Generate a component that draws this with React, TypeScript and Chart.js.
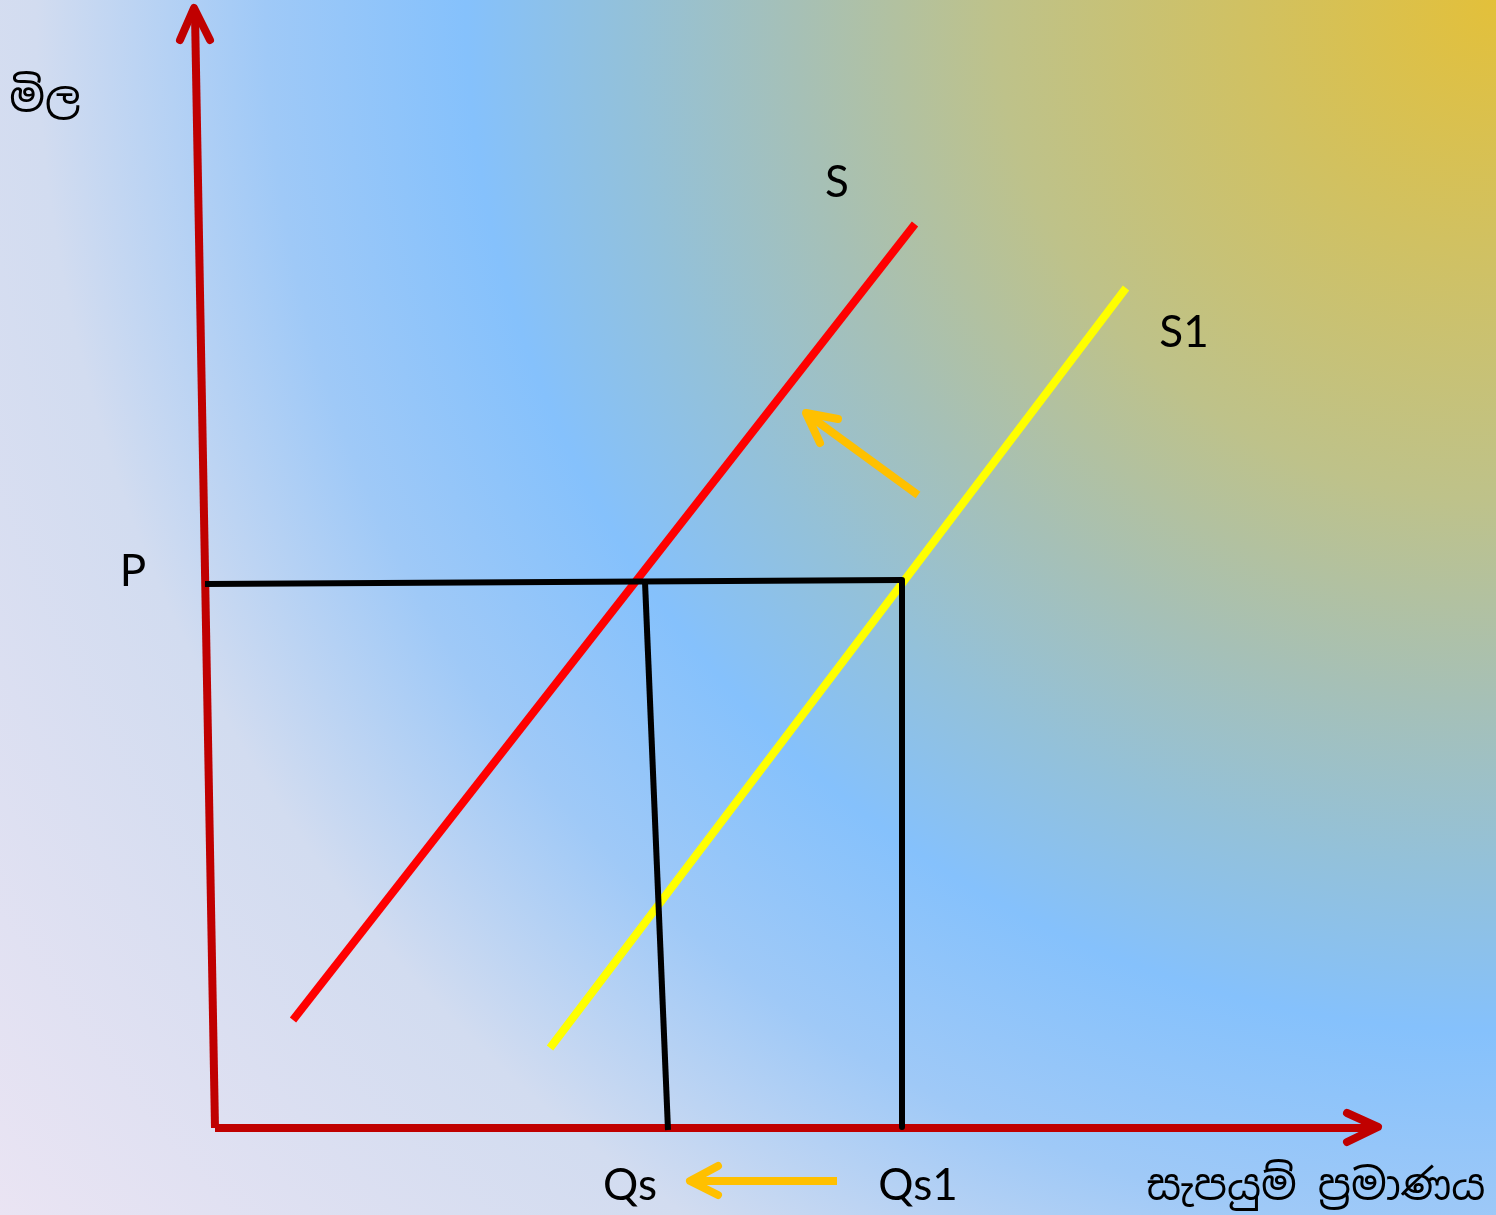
import React, { useEffect, useRef } from "react";
import { Chart, registerables } from "chart.js";

Chart.register(...registerables);

// Data units: x = quantity supplied, y = price (origin at the axes' corner)
const priceAxisLine = [{ x: 0, y: 0 }, { x: -20, y: 1114 }];
const priceAxisHead = [{ x: -35, y: 1088 }, { x: -21, y: 1120 }, { x: -5, y: 1088 }];
const qtyAxisLine = [{ x: 0, y: 0 }, { x: 1161, y: 0 }];
const qtyAxisHead = [{ x: 1132, y: 15 }, { x: 1163, y: 1 }, { x: 1132, y: -14 }];

const supplyS = [{ x: 78, y: 108 }, { x: 700, y: 904 }];
const supplyS1 = [{ x: 335, y: 80 }, { x: 911, y: 840 }];

const priceLevelLine = [{ x: -10, y: 544 }, { x: 687, y: 548 }];
const qsDropLine = [{ x: 430, y: 546 }, { x: 453, y: -2 }];
const qs1DropLine = [{ x: 687, y: 548 }, { x: 687, y: 1 }];

const shiftArrowShaft = [{ x: 703, y: 633 }, { x: 592, y: 714 }];
const shiftArrowHead = [{ x: 623, y: 709 }, { x: 591, y: 715 }, { x: 605, y: 685 }];
const qtyArrowShaft = [{ x: 622, y: -53 }, { x: 478, y: -53 }];
const qtyArrowHead = [{ x: 503, y: -38 }, { x: 475, y: -53 }, { x: 503, y: -67 }];

const labelTexts = ["S", "S1", "P", "Qs", "Qs1", "මිල", "සැපයුම් ප්‍රමාණය"];
const labelX = [622, 969, -82, 415, 703, -170, 1101];
const labelY = [945, 795, 556, -58, -58, 1028, -60];

const xMin = -215;
const xMax = 1281;
const yMin = -87;
const yMax = 1128;

const W = 1496;
const H = 1215;

const backgroundPlugin = {
  id: "bgGradient",
  beforeDraw(chart: any) {
    const ctx = chart.ctx;
    const w = chart.width;
    const h = chart.height;
    const R = 1930;
    ctx.save();
    const g = ctx.createRadialGradient(w, 0, 0, w, 0, R);
    g.addColorStop(0, "#E3C03A");
    g.addColorStop(500 / R, "#BEC28A");
    g.addColorStop(700 / R, "#A6C0B6");
    g.addColorStop(870 / R, "#93C1DA");
    g.addColorStop(1030 / R, "#85C1FC");
    g.addColorStop(1230 / R, "#9FC9F7");
    g.addColorStop(1460 / R, "#D2DCF0");
    g.addColorStop(1, "#EAE4F3");
    ctx.fillStyle = g;
    ctx.fillRect(0, 0, w, h);
    ctx.restore();
  },
};

const labelPlugin = {
  id: "textLabels",
  afterDatasetsDraw(chart: any) {
    const ctx = chart.ctx;
    const xs = chart.scales.x;
    const ys = chart.scales.y;
    ctx.save();
    ctx.fillStyle = "#000000";
    ctx.textAlign = "center";
    ctx.textBaseline = "middle";
    labelTexts.forEach((t, i) => {
      const isSinhala = /[\u0D80-\u0DFF]/.test(t);
      ctx.font = isSinhala
        ? "42px 'Noto Sans Sinhala', 'Iskoola Pota', 'Noto Sans', sans-serif"
        : "44px Lato, 'Open Sans', sans-serif";
      ctx.fillText(t, xs.getPixelForValue(labelX[i]), ys.getPixelForValue(labelY[i]));
    });
    ctx.restore();
  },
};

function line(data: any[], color: string, width: number, cap: string) {
  return {
    data,
    showLine: true,
    borderColor: color,
    backgroundColor: color,
    borderWidth: width,
    borderCapStyle: cap,
    borderJoinStyle: "round",
    pointRadius: 0,
    pointHoverRadius: 0,
    fill: false,
    tension: 0,
  };
}

export default function App() {
  const ref = useRef<HTMLCanvasElement | null>(null);
  useEffect(() => {
    document.body.style.margin = "0";
    document.body.style.overflow = "hidden";
    if (!ref.current) return;
    const chart = new Chart(ref.current, {
      type: "scatter",
      data: {
        datasets: [
          // first dataset is drawn on top
          line(qtyArrowHead, "#FFC000", 8, "round"),
          line(qtyArrowShaft, "#FFC000", 8, "butt"),
          line(shiftArrowHead, "#FFC000", 8, "round"),
          line(shiftArrowShaft, "#FFC000", 8, "butt"),
          line(qsDropLine, "#000000", 6, "butt"),
          line(qs1DropLine, "#000000", 6, "butt"),
          line(priceLevelLine, "#000000", 6, "butt"),
          line(supplyS1, "#FFFF00", 8, "butt"),
          line(supplyS, "#FF0000", 8, "butt"),
          line(qtyAxisHead, "#C00000", 8, "round"),
          line(qtyAxisLine, "#C00000", 8, "butt"),
          line(priceAxisHead, "#C00000", 8, "round"),
          line(priceAxisLine, "#C00000", 8, "butt"),
        ] as any,
      },
      options: {
        animation: false,
        responsive: false,
        events: [],
        layout: { padding: 0 },
        plugins: {
          legend: { display: false },
          tooltip: { enabled: false },
        },
        scales: {
          x: { type: "linear", min: xMin, max: xMax, display: false },
          y: { type: "linear", min: yMin, max: yMax, display: false },
        },
      } as any,
      plugins: [backgroundPlugin, labelPlugin],
    });
    return () => chart.destroy();
  }, []);
  return (
    <div style={{ width: W, height: H, position: "relative" }}>
      <canvas ref={ref} width={W} height={H} style={{ display: "block", width: W, height: H }} />
    </div>
  );
}
